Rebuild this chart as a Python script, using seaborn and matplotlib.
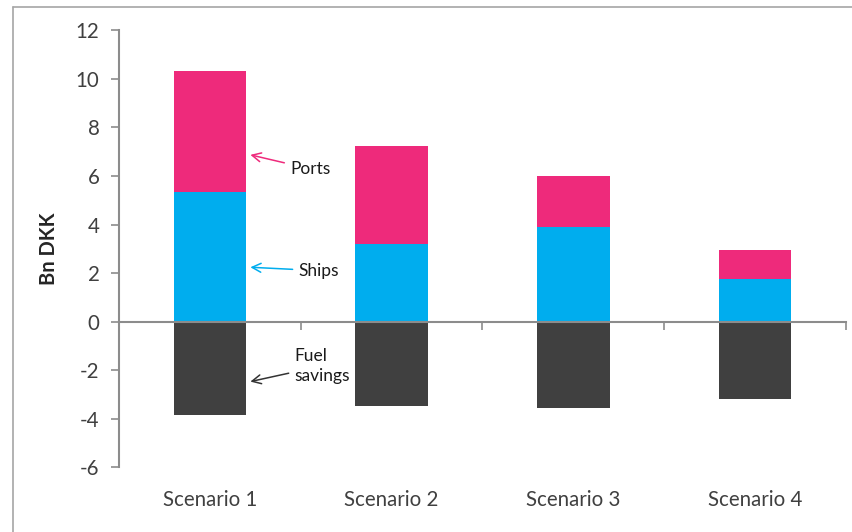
import matplotlib
matplotlib.use("Agg")
import matplotlib.pyplot as plt
from matplotlib.lines import Line2D
import seaborn as sns
import pandas as pd

# Investment costs and fuel savings per scenario (Bn DKK)
scenarios = ["Scenario 1", "Scenario 2", "Scenario 3", "Scenario 4"]
ships = [5.35, 3.19, 3.91, 1.75]
ports = [4.97, 4.05, 2.10, 1.19]
fuel_savings = [-3.84, -3.47, -3.57, -3.17]
y_ticks = [-6, -4, -2, 0, 2, 4, 6, 8, 10, 12]

PINK = "#EE2A7B"
BLUE = "#00ADEE"
DARK = "#404040"
AXIS_GREY = "#8C8C8C"

df = pd.DataFrame({
    "scenario": scenarios,
    "ships": ships,
    "total": [s + p for s, p in zip(ships, ports)],
    "fuel": fuel_savings,
})

sns.set_style("white")
plt.rcParams["font.family"] = ["Lato", "DejaVu Sans"]

fig = plt.figure(figsize=(8.52, 5.32), dpi=100)
ax = fig.add_axes([119 / 852, 1 - 467.3 / 532, (845.7 - 119) / 852, (467.3 - 30.3) / 532])

# Stacked columns: total (ports on top) first, ships drawn over it
bar_kw = dict(x="scenario", width=0.4, saturation=1, errorbar=None, linewidth=0, ax=ax)
sns.barplot(data=df, y="total", color=PINK, **bar_kw)
sns.barplot(data=df, y="ships", color=BLUE, **bar_kw)
sns.barplot(data=df, y="fuel", color=DARK, **bar_kw)

ax.set_xlim(-0.5, len(scenarios) - 0.5)
ax.set_ylim(-6, 12)
ax.set_yticks(y_ticks)
ax.set_yticklabels([str(t) for t in y_ticks])

for side in ("top", "right"):
    ax.spines[side].set_visible(False)
ax.spines["left"].set_color(AXIS_GREY)
ax.spines["left"].set_linewidth(1.5)
ax.spines["bottom"].set_color(AXIS_GREY)
ax.spines["bottom"].set_linewidth(1.5)
ax.spines["bottom"].set_position(("data", 0))
ax.spines["bottom"].set_zorder(5)

ax.tick_params(axis="y", direction="out", length=6, width=1.2, color=AXIS_GREY,
               labelsize=14.8, labelcolor=DARK, pad=8, left=True)

# Category boundaries get tick marks on the zero line; names go below the plot
ax.set_xticks([i - 0.5 for i in range(len(scenarios) + 1)])
ax.set_xticklabels([])
ax.tick_params(axis="x", direction="out", length=6, width=1.2, color=AXIS_GREY, bottom=True)
ax.set_xlabel("")
for i, name in enumerate(scenarios):
    ax.text(i, -0.075, name, transform=ax.get_xaxis_transform(), ha="center", va="center",
            fontsize=14.8, color=DARK)

ax.set_ylabel("Bn DKK", fontsize=14.5, fontweight="bold", color="#262626", labelpad=12)

# Callout labels for the three components
ann_kw = dict(fontsize=12.5, color="#1A1A1A", ha="left", va="center")
ax.annotate("Ports", xy=(0.223, 6.87), xytext=(0.443, 6.29),
            arrowprops=dict(arrowstyle="->", color=PINK, lw=1.1, mutation_scale=16,
                            shrinkA=2, shrinkB=0), **ann_kw)
ax.annotate("Ships", xy=(0.223, 2.24), xytext=(0.489, 2.10),
            arrowprops=dict(arrowstyle="->", color=BLUE, lw=1.1, mutation_scale=16,
                            shrinkA=2, shrinkB=0), **ann_kw)
ax.annotate("Fuel\nsavings", xy=(0.223, -2.47), xytext=(0.467, -1.82),
            arrowprops=dict(arrowstyle="->", color="#333333", lw=1.1, mutation_scale=16,
                            shrinkA=2, shrinkB=0), linespacing=1.3, **ann_kw)

# Chart-area frame (top and left edges)
fig.add_artist(Line2D([13 / 852, 13 / 852], [-0.1, 1 - 7 / 532], transform=fig.transFigure,
                      color="#A6A6A6", lw=1.2))
fig.add_artist(Line2D([13 / 852, 1.1], [1 - 7 / 532, 1 - 7 / 532], transform=fig.transFigure,
                      color="#A6A6A6", lw=1.2))

fig.savefig("out.png", dpi=100)
